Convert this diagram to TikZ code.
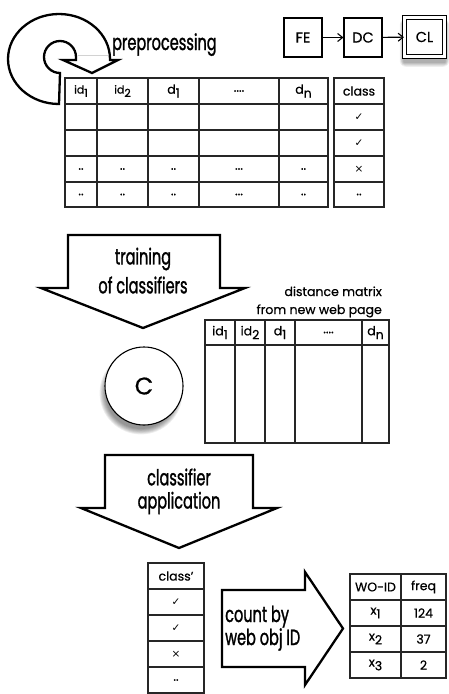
\documentclass[tikz,border=0pt]{standalone}
\usepackage{fontspec}
\setmainfont[FakeBold=0.6]{Poppins}
\newfontfamily\condfont[FakeStretch=0.66,FakeBold=1.2]{Poppins}
\newfontfamily\symfont{DejaVu Sans}
\usetikzlibrary{arrows.meta}

% lowered index in table headers
\newcommand\ix[1]{\raisebox{-0.55ex}{#1}}
\newcommand\ok{{\symfont\fontsize{10.5}{12}\selectfont ✓}}
\newcommand\no{{\symfont\fontsize{10.5}{12}\selectfont ×}}

\tikzset{
  tbl/.style={line width=1.2pt, black!85},
  cell/.style={font=\fontsize{12.5}{14}\selectfont, inner sep=0pt},
  small/.style={font=\fontsize{11}{12}\selectfont, inner sep=0pt},
  bigarrow/.style={line width=2.3pt, fill=white, line join=miter},
  lbl/.style={font=\condfont\fontsize{22}{26}\selectfont, inner sep=0pt},
  stepbox/.style={draw, line width=1.1pt, minimum width=38pt, minimum height=39pt,
                  font=\fontsize{14.5}{16}\selectfont, fill=white},
  flow/.style={line width=1.1pt, -{Straight Barb[length=5pt,width=8pt]}},
}

\begin{document}
\begin{tikzpicture}[x=1pt,y=1pt]
\useasboundingbox (0,0) rectangle (448,-694);
\fill[white] (0,0) rectangle (448,-694);

% ---------- circular preprocessing arrow ----------
\draw[bigarrow] (59,-104)
  arc[start angle=-90, end angle=-360, x radius=51pt, y radius=45pt]
  -- (110,-60) -- (118,-60) -- (92,-73) -- (63,-60) -- (76,-60) -- (76,-57)
  arc[start angle=0, end angle=270, radius=16pt] -- cycle;
\draw[gray!35, line width=0.6pt] (78,-55) -- (108,-55);
\node[lbl, anchor=base west] (pre) at (112,-50) {preprocessing};

% ---------- pipeline boxes ----------
\foreach \i in {1,...,6}
  \fill[black, opacity=0.06, rounded corners=\i pt]
    (404-\i*0.7,-21+\i*0.3) rectangle (445+\i*0.7,-62-\i*0.8);
\node[stepbox] (fe) at (303,-37.5) {FE};
\node[stepbox] (dc) at (363,-37.5) {DC};
\node[stepbox, minimum width=40pt, minimum height=39pt, double, double distance=2.6pt,
      line width=1.1pt] (cl) at (424.5,-37) {CL};
\draw[flow] (fe) -- (dc);
\draw[flow] (dc) -- (cl);

% ---------- training table ----------
\draw[tbl] (65,-78) rectangle (328,-207);
\foreach \x in {97,148,199,279} \draw[tbl] (\x,-78) -- (\x,-207);
\foreach \y in {104,130,156,182} \draw[tbl] (65,-\y) -- (328,-\y);
\draw[tbl] (334,-78) rectangle (384,-207);
\foreach \y in {104,130,156,182} \draw[tbl] (334,-\y) -- (384,-\y);

\node[small] (h1) at (81,-91) {id\ix{1}};
\node[small] (h2) at (122.5,-91) {id\ix{2}};
\node[cell] (h3) at (173.5,-91) {d\ix{1}};
\node[cell] (h4) at (239,-91) {....};
\node[cell] (h5) at (303.5,-91) {d\ix{n}};
\node[cell] (hc) at (359,-91) {class};
\node[cell] (c1) at (359,-117) {\ok};
\node[cell] (c2) at (359,-143) {\ok};
\node[cell] (c3) at (359,-169) {\no};
\node[cell] (c4) at (359,-194.5) {..};
\foreach \r/\y in {a/169,b/194.5}{
  \node[cell] (r\r1) at (81,-\y) {..};
  \node[cell] (r\r2) at (122.5,-\y) {..};
  \node[cell] (r\r3) at (173.5,-\y) {..};
  \node[cell] (r\r4) at (239,-\y) {...};
  \node[cell] (r\r5) at (303.5,-\y) {..};
}

% ---------- training arrow ----------
\draw[bigarrow] (68,-235) -- (220,-235) -- (220,-288) -- (245,-288) -- (143,-328)
  -- (41,-288) -- (68,-288) -- cycle;
\node[lbl] (tr1) at (143,-259) {training};
\node[lbl] (tr2) at (143,-285) {of classifiers};

% ---------- distance matrix ----------
\node[cell, anchor=base east] (dm1) at (382,-296) {distance matrix};
\node[cell, anchor=base east] (dm2) at (382,-314) {from new web page};
\draw[tbl] (205,-320) rectangle (389,-443);
\draw[tbl] (205,-345) -- (389,-345);
\foreach \x in {235,265,295,362} \draw[tbl] (\x,-320) -- (\x,-443);
\node[cell] (m1) at (220,-332.5) {id\ix{1}};
\node[cell] (m2) at (250,-332.5) {id\ix{2}};
\node[cell] (m3) at (280,-332.5) {d\ix{1}};
\node[cell] (m4) at (328.5,-332.5) {....};
\node[cell] (m5) at (375.5,-332.5) {d\ix{n}};

% ---------- classifier ----------
\foreach \i in {0,...,6}
  \fill[black, opacity=0.07] (141,-393) circle[radius=36pt+\i pt*0.9];
\node[circle, draw, line width=1.1pt, fill=white, minimum size=78pt,
      font=\fontsize{24}{26}\selectfont] (clf) at (144,-386) {C};

% ---------- application arrow ----------
\draw[bigarrow] (105,-455) -- (253,-455) -- (253,-508) -- (277,-508) -- (179,-548)
  -- (81,-508) -- (105,-508) -- cycle;
\node[lbl] (ap1) at (179,-477) {classifier};
\node[lbl] (ap2) at (179,-503) {application};

% ---------- predicted classes ----------
\draw[tbl] (148,-563) rectangle (204,-693);
\foreach \y in {589,615,641,667} \draw[tbl] (148,-\y) -- (204,-\y);
\node[cell] (p0) at (176,-576) {class'};
\node[cell] (p1) at (176,-602) {\ok};
\node[cell] (p2) at (176,-628) {\ok};
\node[cell] (p3) at (176,-654) {\no};
\node[cell] (p4) at (176,-680) {..};

% ---------- count arrow ----------
\draw[bigarrow] (222,-590) -- (305,-590) -- (305,-572) -- (343,-628.5) -- (305,-685)
  -- (305,-667) -- (222,-667) -- cycle;
\node[lbl, anchor=base west] (cn1) at (225,-622) {count by};
\node[lbl, anchor=base west] (cn2) at (225,-645) {web obj ID};

% ---------- frequency table ----------
\draw[tbl] (350,-574) rectangle (446,-678);
\draw[tbl] (401,-574) -- (401,-678);
\foreach \y in {600,626,652} \draw[tbl] (350,-\y) -- (446,-\y);
\node[cell] (f0) at (375.5,-587) {WO-ID};
\node[cell] (g0) at (423.5,-587) {freq};
\node[cell] (f1) at (375.5,-613) {x\ix{1}};
\node[cell] (g1) at (423.5,-613) {124};
\node[cell] (f2) at (375.5,-639) {x\ix{2}};
\node[cell] (g2) at (423.5,-639) {37};
\node[cell] (f3) at (375.5,-665) {x\ix{3}};
\node[cell] (g3) at (423.5,-665) {2};
\end{tikzpicture}
\end{document}
